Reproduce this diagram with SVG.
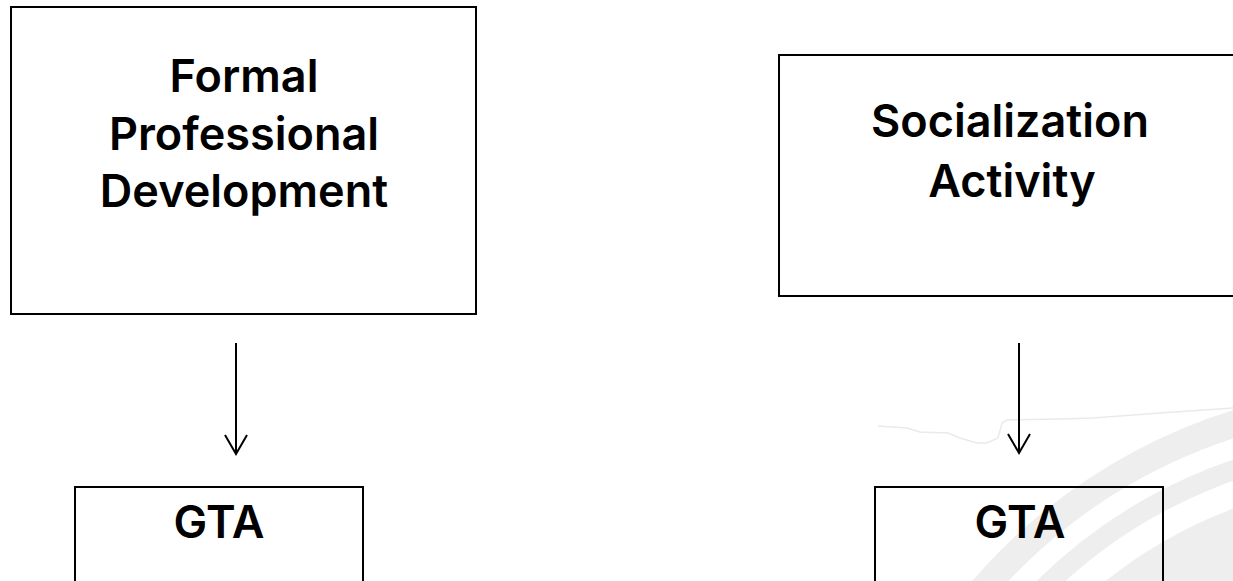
<svg xmlns="http://www.w3.org/2000/svg" width="1233" height="581" viewBox="0 0 1233 581">
<style>
.box{fill:none;stroke:#000000;stroke-width:2}
.lbl{font-family:Inter,"Liberation Sans",sans-serif;font-weight:600;font-size:45px;fill:#000000;text-anchor:middle;font-variant-ligatures:none}
.conn{stroke:#000000;stroke-width:2;fill:none}
.ring{fill:none;stroke:#ffffff}
</style>
<defs>
<clipPath id="bgclip">
<path d="M878,426 L907,428 L920,432 L948,433 L960,438 L977,443 L987,443 L998,438 L1002,423 L1007,420 L1060,419 L1093,418 L1160,413 L1233,408 L1233,581 L860,581 Z"/>
</clipPath>
</defs>
<rect width="1233" height="581" fill="#ffffff"/>
<g id="background" clip-path="url(#bgclip)">
<circle cx="1400" cy="950" r="565" fill="#eeeeee"/>
<circle class="ring" cx="1400" cy="950" r="528" stroke-width="20"/>
<circle class="ring" cx="1400" cy="950" r="485" stroke-width="26"/>
</g>
<path d="M878,426 L907,428 L920,432 L948,433 L960,438 L977,443 L987,443 L998,438 L1002,423 L1007,420 L1060,419 L1093,418 L1160,413 L1233,408" fill="none" stroke="#eaeaea" stroke-width="1.5"/>
<g id="connectors">
<line class="conn" x1="236" y1="343" x2="236" y2="454"/>
<polyline class="conn" points="225,435 236,454 247,435"/>
<line class="conn" x1="1019" y1="343" x2="1019" y2="453"/>
<polyline class="conn" points="1008,434 1019,453 1030,434"/>
</g>
<g id="node-formal">
<rect class="box" x="11" y="7" width="465" height="307"/>
<text class="lbl" x="244" y="92">Formal</text>
<text class="lbl" x="244" y="150">Professional</text>
<text class="lbl" x="244" y="207">Development</text>
</g>
<g id="node-social">
<rect class="box" x="779" y="55" width="470" height="241"/>
<text class="lbl" x="1010" y="137">Socialization</text>
<text class="lbl" x="1012" y="197">Activity</text>
</g>
<g id="node-gta1">
<rect class="box" x="75" y="487" width="288" height="110"/>
<text class="lbl" x="219" y="538">GTA</text>
</g>
<g id="node-gta2">
<rect class="box" x="875" y="487" width="288" height="110"/>
<text class="lbl" x="1020" y="538">GTA</text>
</g>
</svg>
